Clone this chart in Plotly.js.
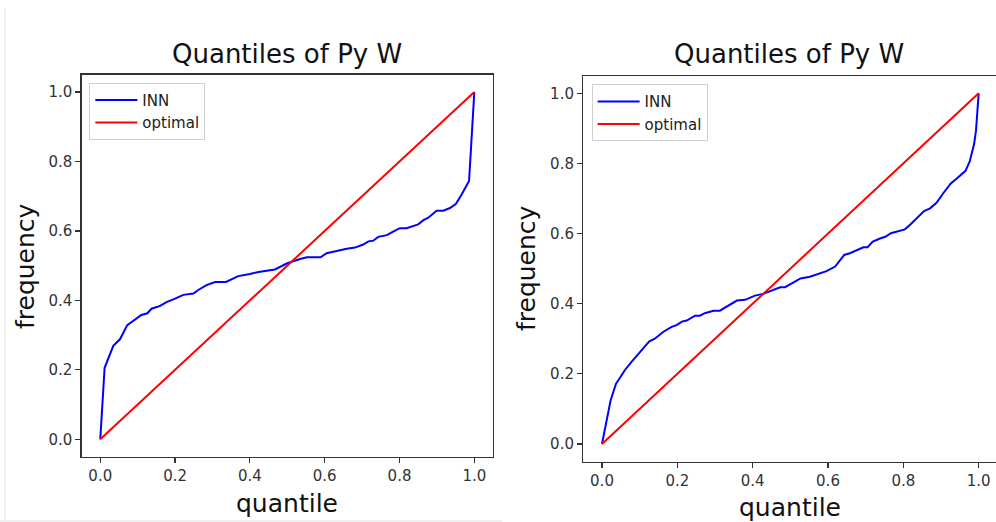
<!DOCTYPE html>
<html>
<head>
<meta charset="utf-8">
<script src="https://cdn.plot.ly/plotly-3.0.1.min.js"></script>
<style>html,body{margin:0;padding:0;background:#fff;}#chart{width:996px;height:522px;}</style>
</head>
<body>
<div id="chart"></div>
<script>
// Left panel: INN quantile curve
const leftX = [0, 0.0116, 0.0348, 0.0526, 0.0722, 0.0927, 0.110, 0.126, 0.137, 0.160, 0.177, 0.200, 0.222, 0.249, 0.262, 0.284, 0.307, 0.336, 0.369, 0.400, 0.423, 0.467, 0.500, 0.534, 0.553, 0.589, 0.605, 0.632, 0.659, 0.681, 0.703, 0.717, 0.730, 0.743, 0.766, 0.783, 0.801, 0.819, 0.850, 0.864, 0.877, 0.899, 0.917, 0.935, 0.951, 0.966, 0.978, 0.986, 1.0];
const leftY = [0, 0.206, 0.269, 0.288, 0.329, 0.345, 0.358, 0.363, 0.376, 0.384, 0.395, 0.405, 0.416, 0.420, 0.430, 0.444, 0.453, 0.453, 0.470, 0.476, 0.482, 0.489, 0.507, 0.519, 0.524, 0.524, 0.536, 0.542, 0.549, 0.552, 0.561, 0.570, 0.572, 0.583, 0.588, 0.598, 0.608, 0.608, 0.619, 0.631, 0.638, 0.658, 0.658, 0.666, 0.678, 0.705, 0.729, 0.744, 1.0];
// Right panel: INN quantile curve
const rightX = [0, 0.023, 0.037, 0.061, 0.079, 0.101, 0.125, 0.141, 0.163, 0.185, 0.198, 0.212, 0.225, 0.247, 0.260, 0.273, 0.296, 0.313, 0.335, 0.358, 0.380, 0.406, 0.428, 0.455, 0.473, 0.486, 0.504, 0.527, 0.552, 0.574, 0.596, 0.619, 0.632, 0.643, 0.658, 0.676, 0.694, 0.705, 0.719, 0.738, 0.752, 0.767, 0.787, 0.804, 0.818, 0.835, 0.855, 0.871, 0.888, 0.906, 0.926, 0.942, 0.965, 0.976, 0.988, 0.993, 1.0];
const rightY = [0, 0.125, 0.171, 0.211, 0.235, 0.263, 0.292, 0.301, 0.320, 0.334, 0.339, 0.349, 0.352, 0.366, 0.366, 0.373, 0.380, 0.380, 0.395, 0.409, 0.411, 0.423, 0.428, 0.439, 0.447, 0.447, 0.458, 0.472, 0.477, 0.485, 0.493, 0.506, 0.523, 0.539, 0.544, 0.553, 0.561, 0.561, 0.577, 0.586, 0.591, 0.601, 0.606, 0.612, 0.625, 0.644, 0.664, 0.672, 0.688, 0.715, 0.743, 0.757, 0.779, 0.805, 0.856, 0.895, 1.0];
// Optimal diagonal
const optX = [0, 1];
const optY = [0, 1];
const titleText = "Quantiles of Py W";
const xLabel = "quantile";
const yLabel = "frequency";
const seriesNames = ["INN", "optimal"];

const FONT = "DejaVu Sans, sans-serif";
const traces = [
  {x: leftX, y: leftY, type: "scatter", mode: "lines", name: seriesNames[0], line: {color: "#0000ff", width: 2}, xaxis: "x", yaxis: "y", legend: "legend"},
  {x: optX, y: optY, type: "scatter", mode: "lines", name: seriesNames[1], line: {color: "#ff0000", width: 2}, xaxis: "x", yaxis: "y", legend: "legend"},
  {x: rightX, y: rightY, type: "scatter", mode: "lines", name: seriesNames[0], line: {color: "#0000ff", width: 2}, xaxis: "x2", yaxis: "y2", legend: "legend2"},
  {x: optX, y: optY, type: "scatter", mode: "lines", name: seriesNames[1], line: {color: "#ff0000", width: 2}, xaxis: "x2", yaxis: "y2", legend: "legend2"}
];

const axisCommon = {
  showgrid: false, zeroline: false, showline: true, linecolor: "#333", linewidth: 1.2,
  ticks: "outside", ticklen: 5, tickwidth: 1.2, tickcolor: "#333",
  dtick: 0.2, tick0: 0, tickformat: ".1f",
  tickfont: {family: FONT, size: 15, color: "#333"}
};

const legendCommon = {
  font: {family: FONT, size: 15, color: "#222"},
  bgcolor: "rgba(255,255,255,0.9)", bordercolor: "#d0d0d0", borderwidth: 1,
  xanchor: "left", yanchor: "top", traceorder: "normal", tracegroupgap: 0,
  itemwidth: 42
};

const layout = {
  width: 996, height: 522,
  margin: {l: 0, r: 0, t: 0, b: 0},
  paper_bgcolor: "#fff", plot_bgcolor: "#fff",
  showlegend: true,
  xaxis: Object.assign({}, axisCommon, {domain: [0.0819, 0.4950], range: [-0.05, 1.05], anchor: "y", mirror: true}),
  yaxis: Object.assign({}, axisCommon, {domain: [0.1251, 0.8570], range: [-0.05, 1.05], anchor: "x", mirror: true}),
  xaxis2: Object.assign({}, axisCommon, {domain: [0.5855, 1.0], range: [-0.05, 1.046], anchor: "y2", mirror: true}),
  yaxis2: Object.assign({}, axisCommon, {domain: [0.1159, 0.8548], range: [-0.05, 1.05], anchor: "x2", mirror: false}),
  legend: Object.assign({}, legendCommon, {x: 0.0897, y: 0.8416}),
  legend2: Object.assign({}, legendCommon, {x: 0.594, y: 0.8385}),
  annotations: [
    {text: titleText, xref: "paper", yref: "paper", x: 287 / 996, y: (522 - 54) / 522, xanchor: "center", yanchor: "middle", showarrow: false, font: {family: FONT, size: 26, color: "#111"}},
    {text: titleText, xref: "paper", yref: "paper", x: 789 / 996, y: (522 - 54) / 522, xanchor: "center", yanchor: "middle", showarrow: false, font: {family: FONT, size: 26, color: "#111"}},
    {text: xLabel, xref: "paper", yref: "paper", x: 286.5 / 996, y: (522 - 503) / 522, xanchor: "center", yanchor: "middle", showarrow: false, font: {family: FONT, size: 25, color: "#111"}},
    {text: xLabel, xref: "paper", yref: "paper", x: 790 / 996, y: (522 - 507) / 522, xanchor: "center", yanchor: "middle", showarrow: false, font: {family: FONT, size: 25, color: "#111"}},
    {text: yLabel, xref: "paper", yref: "paper", x: 25 / 996, y: (522 - 266) / 522, xanchor: "center", yanchor: "middle", textangle: -90, showarrow: false, font: {family: FONT, size: 25, color: "#111"}},
    {text: yLabel, xref: "paper", yref: "paper", x: 526 / 996, y: (522 - 268) / 522, xanchor: "center", yanchor: "middle", textangle: -90, showarrow: false, font: {family: FONT, size: 25, color: "#111"}}
  ],
  shapes: [
    {type: "line", xref: "paper", yref: "paper", x0: 5 / 996, x1: 5 / 996, y0: 1 / 522, y1: (522 - 8) / 522, line: {color: "#e2e2e2", width: 1}},
    {type: "line", xref: "paper", yref: "paper", x0: 0, x1: 502 / 996, y0: 1 / 522, y1: 1 / 522, line: {color: "#e2e2e2", width: 1}}
  ]
};

Plotly.newPlot("chart", traces, layout, {displayModeBar: false, staticPlot: true});
</script>
</body>
</html>
